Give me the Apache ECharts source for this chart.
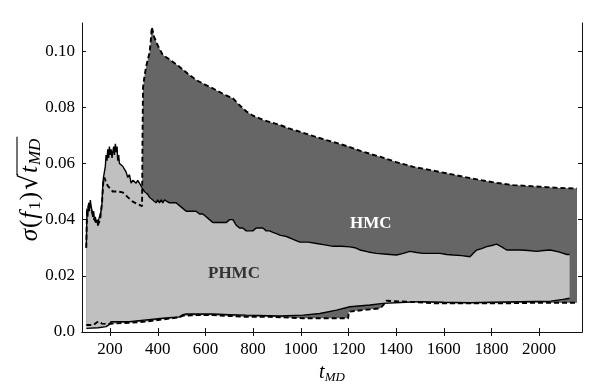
<!DOCTYPE html>
<html><head><meta charset="utf-8">
<script src="https://cdn.jsdelivr.net/npm/echarts@6/dist/echarts.min.js"></script>
<style>html,body{margin:0;padding:0;background:#fff}#c{width:599px;height:386px}</style>
</head><body><div id="c"></div>
<script>
// ---- data ----
var xTicks = [200, 400, 600, 800, 1000, 1200, 1400, 1600, 1800, 2000];
var yTicks = [0, 0.02, 0.04, 0.06, 0.08, 0.10];

// PHMC upper bound (solid)
var tPU = [100,103,106,110,113,117,120,124,127,131,134,138,141,145,148,152,158,162,166,169,172,176,180,183,187,190,194,197,201,204,208,211,215,218,222,225,229,232,236,239,246,253,260,267,274,281,288,295,302,309,316,323,330,337,344,351,358,365,372,379,386,393,400,407,414,421,428,435,449,463,477,491,505,519,533,547,561,575,589,603,617,631,645,660,674,688,701,715,729,743,757,771,785,799,813,827,841,855,869,883,898,912,940,968,996,1031,1066,1101,1136,1171,1206,1227,1248,1283,1318,1360,1402,1430,1458,1486,1514,1549,1584,1612,1640,1675,1710,1724,1738,1759,1780,1801,1822,1843,1864,1892,1920,1955,1990,2019,2047,2082,2117,2128];
var pU = [0.030,0.044,0.041,0.046,0.043,0.047,0.045,0.043,0.041,0.043,0.040,0.041,0.039,0.040,0.038,0.040,0.040,0.043,0.046,0.052,0.055,0.057,0.059,0.063,0.061,0.065,0.062,0.066,0.063,0.065,0.062,0.064,0.066,0.063,0.067,0.064,0.066,0.061,0.063,0.060,0.060,0.059,0.058,0.057,0.055,0.056,0.053,0.054,0.054,0.053,0.054,0.053,0.052,0.052,0.050,0.050,0.049,0.048,0.048,0.047,0.047,0.046,0.047,0.046,0.047,0.046,0.047,0.047,0.046,0.046,0.046,0.045,0.044,0.043,0.043,0.043,0.043,0.042,0.042,0.041,0.040,0.039,0.039,0.039,0.039,0.039,0.040,0.040,0.038,0.037,0.037,0.036,0.036,0.036,0.037,0.037,0.037,0.036,0.036,0.0355,0.035,0.0345,0.034,0.033,0.032,0.032,0.0315,0.031,0.0305,0.0305,0.0303,0.030,0.0292,0.0285,0.028,0.0277,0.0274,0.028,0.0287,0.0283,0.028,0.028,0.028,0.0276,0.0274,0.0272,0.0268,0.028,0.0292,0.0297,0.0304,0.0308,0.0313,0.0303,0.0292,0.0292,0.0292,0.029,0.0287,0.029,0.0292,0.0285,0.0276,0.0276];

// PHMC lower bound (solid)
var tPL = [100,150,183,195,204,281,351,421,491,505,519,631,700,772,912,1010,1080,1150,1206,1290,1346,1420,1500,1600,1710,1800,1920,2050,2100,2128];
var pL = [0.0013,0.0015,0.0019,0.0025,0.0037,0.0037,0.0043,0.0049,0.0054,0.0062,0.0064,0.0064,0.0062,0.0060,0.0057,0.0060,0.0066,0.0078,0.0090,0.0096,0.0102,0.0105,0.0108,0.0106,0.0104,0.0106,0.0108,0.0110,0.0116,0.0120];

// HMC upper bound (dashed)
var tHU = [100,103,110,120,134,148,158,166,172,176,180,190,211,232,253,274,295,316,334,336,338,344,351,358,365,370,375,385,400,421,450,491,525,561,600,631,680,715,740,772,800,841,880,912,960,1000,1050,1100,1150,1200,1250,1300,1332,1400,1472,1540,1612,1680,1752,1820,1892,1950,2005,2080,2159];
var hU = [0.030,0.043,0.045,0.044,0.040,0.038,0.040,0.046,0.054,0.055,0.054,0.052,0.050,0.050,0.0497,0.048,0.0464,0.0455,0.0448,0.070,0.087,0.091,0.0944,0.097,0.0992,0.103,0.1085,0.105,0.102,0.0986,0.097,0.0944,0.092,0.0897,0.088,0.0867,0.0845,0.0832,0.081,0.0785,0.077,0.0755,0.0745,0.0737,0.0722,0.0712,0.0698,0.0685,0.0673,0.066,0.0645,0.0632,0.0624,0.0605,0.0588,0.0577,0.0565,0.0553,0.0541,0.0531,0.0523,0.052,0.0517,0.0513,0.0511];

// HMC lower bound (dashed)
var tHL = [100,130,145,155,165,190,211,281,351,421,491,505,560,631,700,772,869,1010,1100,1199,1201,1260,1332,1345,1360,1444,1570,1700,1850,1990,2159];
var hL = [0.0025,0.0025,0.0035,0.0037,0.0030,0.0028,0.0030,0.0033,0.0037,0.0045,0.0052,0.0058,0.0060,0.0060,0.0057,0.0054,0.0054,0.0049,0.0049,0.0049,0.0072,0.0078,0.0084,0.0095,0.0111,0.0108,0.0102,0.0102,0.0102,0.0104,0.0104];

// ---- helpers ----
function pairs(t, v) { return t.map(function (x, i) { return [x, v[i]]; }); }
function band(tu, u, tl, l, color, z) {
  return {
    type: 'custom', z: z, silent: true, clip: true,
    data: [[tu[0], u[0]]],
    renderItem: function (params, api) {
      var pts = [];
      for (var i = 0; i < tu.length; i++) pts.push(api.coord([tu[i], u[i]]));
      for (var j = tl.length - 1; j >= 0; j--) pts.push(api.coord([tl[j], l[j]]));
      return { type: 'polygon', shape: { points: pts }, style: { fill: color, stroke: null } };
    }
  };
}
function line(t, v, dashed) {
  return {
    type: 'line', z: 5, data: pairs(t, v), showSymbol: false, silent: true,
    lineStyle: { color: '#000', width: dashed ? 1.9 : 1.4, type: dashed ? [5, 3] : 'solid' }
  };
}

var serif = 'Liberation Serif';
// y-axis title pieces (σ(f1)√tMD) with measured widths for the radical bar
var FS = 25, SS = 17, RS = 25;
var yTitle = [
  { k: 'g', text: 'σ', font: 'italic ' + FS + 'px "' + serif + '"', padR: 1 },
  { k: 'a', text: '(', font: FS + 'px "' + serif + '"', padR: 1 },
  { k: 'f', text: 'f', font: 'italic ' + FS + 'px "' + serif + '"', padR: 2 },
  { k: 's', text: '1', font: SS + 'px "' + serif + '"', padR: 1 },
  { k: 'a', text: ')', font: FS + 'px "' + serif + '"' },
  { k: 'r', text: '√', font: RS + 'px "DejaVu Serif"', padL: 2 },
  { k: 't', text: 't', font: 'italic ' + FS + 'px "' + serif + '"', padL: 1, padR: 1 },
  { k: 'm', text: 'MD', font: 'italic ' + SS + 'px "' + serif + '"', padR: 2 }
];
var mctx = document.createElement('canvas').getContext('2d');
var offs = [], W = 0;
yTitle.forEach(function (p) {
  mctx.font = p.font;
  var w = mctx.measureText(p.text).width + (p.padL || 0) + (p.padR || 0);
  offs.push(W); W += w;
});
var cx = 30, cy = 189;
var barStart = offs[6] - 1, barEnd = W;

var chart = echarts.init(document.getElementById('c'), null, { renderer: 'canvas' });
var axisCommon = {
  type: 'value', min: 82, max: 2180,
  axisLine: { show: true, lineStyle: { color: '#111', width: 1 } },
  splitLine: { show: false }
};
chart.setOption({
  animation: false,
  backgroundColor: '#fff',
  grid: { left: 82, right: 17, top: 23, bottom: 54, containLabel: false, outerBoundsMode: 'none' },
  xAxis: [
    Object.assign({}, axisCommon, {
      position: 'bottom',
      axisTick: { show: true, inside: true, length: 4, customValues: xTicks, lineStyle: { color: '#111' } },
      axisLabel: { customValues: xTicks, fontFamily: serif, fontSize: 17, color: '#000', margin: 9,
        formatter: function (v) { return String(v); } },
      name: '{t|t}{s|MD}', nameLocation: 'middle', nameGap: 29,
      nameTextStyle: { rich: {
        t: { fontFamily: serif, fontStyle: 'italic', fontSize: 20, color: '#000' },
        s: { fontFamily: serif, fontStyle: 'italic', fontSize: 13, color: '#000', padding: [10, 0, 0, 0] }
      } }
    }),
    Object.assign({}, axisCommon, {
      position: 'top',
      axisTick: { show: true, inside: true, length: 4, customValues: xTicks, lineStyle: { color: '#111' } },
      axisLabel: { show: false }
    })
  ],
  yAxis: [
    { type: 'value', min: 0, max: 0.11, position: 'left',
      axisLine: { show: true, lineStyle: { color: '#111' } }, splitLine: { show: false },
      axisTick: { show: true, inside: true, length: 4, customValues: yTicks, lineStyle: { color: '#111' } },
      axisLabel: { customValues: yTicks, fontFamily: serif, fontSize: 17, color: '#000', margin: 7,
        formatter: function (v) { return v === 0 ? '0.0' : v.toFixed(2); } } },
    { type: 'value', min: 0, max: 0.11, position: 'right',
      axisLine: { show: true, lineStyle: { color: '#111' } }, splitLine: { show: false },
      axisTick: { show: true, inside: true, length: 4, customValues: yTicks, lineStyle: { color: '#111' } },
      axisLabel: { show: false } }
  ],
  series: [
    band(tHU, hU, tHL, hL, '#666666', 1),
    band(tPU, pU, tPL, pL, '#c0c0c0', 2),
    line(tPU, pU, false),
    line(tPL, pL, false),
    line(tHU, hU, true),
    line(tHL, hL, true)
  ],
  graphic: [
    { type: 'text', left: 350, top: 215, z: 10, style: { text: 'HMC', fill: '#fff', font: 'bold 17px "Liberation Serif"' } },
    { type: 'text', left: 208, top: 265, z: 10, style: { text: 'PHMC', fill: '#333', font: 'bold 17px "Liberation Serif"' } },
    { type: 'text', x: cx, y: cy, rotation: Math.PI / 2, z: 10,
      style: { text: yTitle.map(function (p, i) { return '{p' + i + '|' + p.text + '}'; }).join(''),
        align: 'center', verticalAlign: 'middle',
        rich: (function () {
          var r = {};
          yTitle.forEach(function (p, i) {
            r['p' + i] = { font: p.font, fill: '#000',
              padding: [(p.k === 's' || p.k === 'm') ? 11 : 0, p.padR || 0, 0, p.padL || 0] };
          });
          return r;
        })() } },
    { type: 'line', z: 10,
      shape: { x1: cx - 13, y1: cy + W / 2 - barStart, x2: cx - 13, y2: cy + W / 2 - barEnd },
      style: { stroke: '#000', lineWidth: 1.1 } }
  ]
});
</script></body></html>
